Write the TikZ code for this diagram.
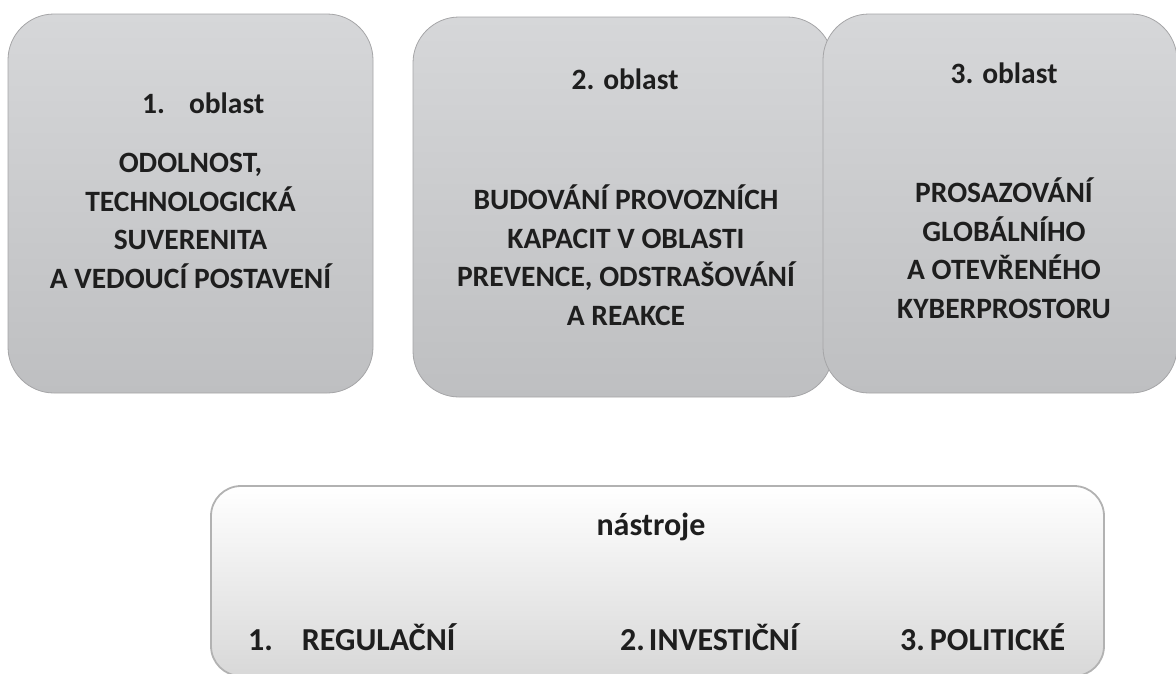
\documentclass[tikz,border=0pt]{standalone}
\usepackage{fontspec}
\setmainfont{Carlito}
\definecolor{boxtop}{RGB}{214,215,217}
\definecolor{boxbot}{RGB}{190,191,193}
\definecolor{boxline}{RGB}{165,165,167}
\definecolor{toolline}{RGB}{178,178,178}
\definecolor{toolbot}{RGB}{216,216,216}
\definecolor{txt}{RGB}{30,30,30}
\begin{document}
\begin{tikzpicture}[x=1pt,y=-1pt,
  areabox/.style={draw=boxline, line width=0.8pt, top color=boxtop, bottom color=boxbot,
     rounded corners=46pt, inner sep=0pt},
  toolbox/.style={draw=toolline, line width=1.8pt, top color=white, middle color=white,
     bottom color=toolbot, rounded corners=30pt, inner sep=0pt},
  txtstyle/.style={text=txt, font=\fontsize{29.5}{38.5}\selectfont\bfseries, inner sep=0pt, align=center},
  tooltxt/.style={text=txt, font=\fontsize{32}{38}\selectfont\bfseries, inner sep=0pt}
]
\useasboundingbox (0,0) rectangle (1176,673);
% boxes
\node[areabox, minimum width=365pt, minimum height=379pt] (b1) at (190.5,203.5) {};
\node[areabox, minimum width=420pt, minimum height=380pt] (b2) at (623,207) {};
\node[areabox, minimum width=354pt, minimum height=379pt] (b3) at (1000,203.5) {};
\node[toolbox, minimum width=893pt, minimum height=190pt] (t) at (657.5,581) {};
% titles
\node[txtstyle, anchor=base west] (t1) at (142,113) {1.\hspace{24pt}oblast};
\node[txtstyle, anchor=base] (t2) at (625,89) {2. oblast};
\node[txtstyle, anchor=base] (t3) at (1004,83) {3. oblast};
% bodies (base anchor = last line baseline)
\node[txtstyle, anchor=base] (x1) at (190.5,288) {ODOLNOST,\\TECHNOLOGICKÁ\\SUVERENITA\\A VEDOUCÍ POSTAVENÍ};
\node[txtstyle, anchor=base] (x2) at (626,325) {BUDOVÁNÍ PROVOZNÍCH\\KAPACIT V OBLASTI\\PREVENCE, ODSTRAŠOVÁNÍ\\A REAKCE};
\node[txtstyle, anchor=base] (x3) at (1004,318) {PROSAZOVÁNÍ\\GLOBÁLNÍHO\\A OTEVŘENÉHO\\KYBERPROSTORU};
% tools
\node[tooltxt, anchor=base] (n) at (651,535) {nástroje};
\node[tooltxt, anchor=base west] (r1) at (248,650) {1.\hspace{29pt}REGULAČNÍ};
\node[tooltxt, anchor=base west] (r2) at (620,650) {2.\hspace{4pt}INVESTIČNÍ};
\node[tooltxt, anchor=base west] (r3) at (900,650) {3.\hspace{5pt}POLITICKÉ};
\end{tikzpicture}
\end{document}
